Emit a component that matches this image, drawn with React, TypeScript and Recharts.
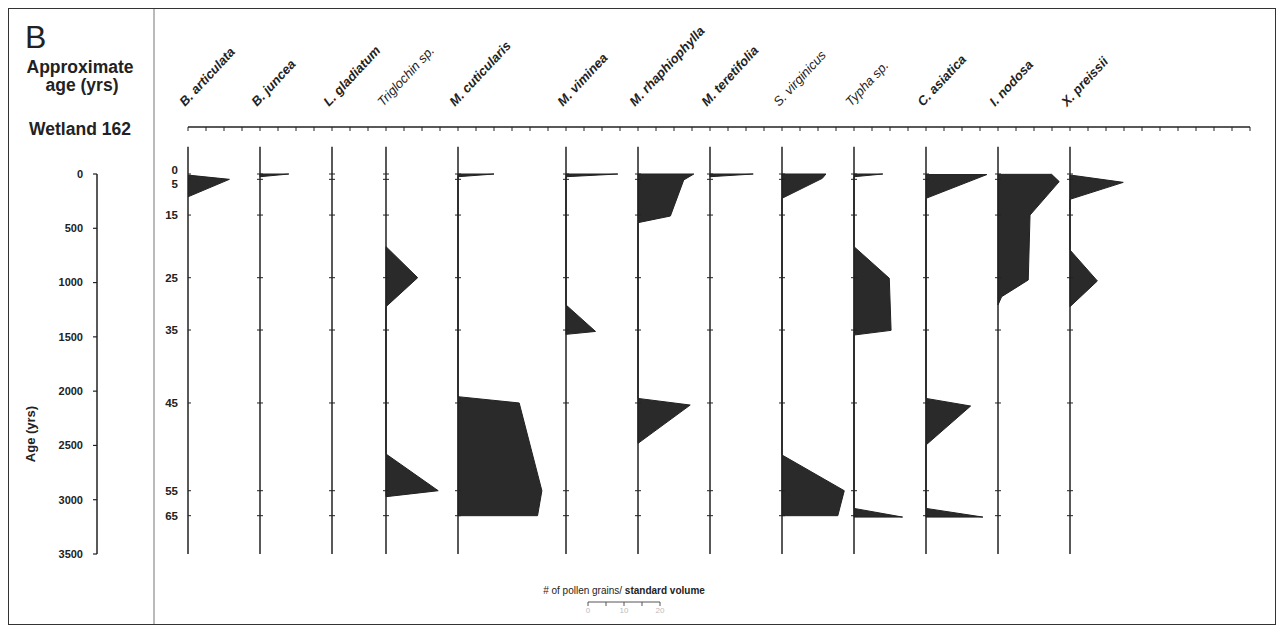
import React from 'react';
import {
  ComposedChart,
  Area,
  XAxis,
  YAxis,
  ReferenceLine,
  Scatter,
  LineChart,
  Line,
} from 'recharts';

// ---------- DATA ----------
const taxa = [
  'B. articulata',
  'B. juncea',
  'L. gladiatum',
  'Triglochin sp.',
  'M. cuticularis',
  'M. viminea',
  'M. rhaphiophylla',
  'M. teretifolia',
  'S. virginicus',
  'Typha sp.',
  'C. asiatica',
  'I. nodosa',
  'X. preissii',
];
// zero line of every taxon column, in grains along the shared count axis
const columnZero = [0, 20, 40, 55, 75, 105, 125, 145, 165, 185, 205, 225, 245];

// [age (yrs), # pollen grains / standard volume]
const bArticulata: [number, number][] = [[10, 0], [49, 11.5], [210, 0]];
const bJuncea: [number, number][] = [[0, 0], [0, 8], [25, 0]];
const lGladiatum: [number, number][] = [];
const triglochin: [number, number][] = [[669, 0], [955, 8.8], [1222, 0], [2579, 0], [2917, 14.5], [2972, 0]];
const mCuticularis: [number, number][] = [[0, 0], [0, 10], [25, 0], [2051, 0], [2109, 17], [2917, 23.3], [3147, 22.1], [3147, 0]];
const mViminea: [number, number][] = [[0, 0], [0, 14.4], [25, 0], [1206, 0], [1450, 8.2], [1477, 0]];
const mRhaphiophylla: [number, number][] = [[0, 0], [0, 15.5], [55, 12.7], [387, 9], [448, 0], [2067, 0], [2128, 14.5], [2481, 0]];
const mTeretifolia: [number, number][] = [[0, 0], [0, 12], [25, 0]];
const sVirginicus: [number, number][] = [[0, 0], [0, 12.2], [40, 11.2], [224, 0], [2588, 0], [2917, 17.3], [3147, 15.5], [3147, 0]];
const typha: [number, number][] = [[0, 0], [0, 8], [25, 0], [669, 0], [960, 9.8], [1440, 10.3], [1483, 0], [3080, 0], [3160, 13.5], [3160, 0]];
const cAsiatica: [number, number][] = [[5, 0], [5, 16.9], [224, 0], [2067, 0], [2137, 12.4], [2496, 0], [3080, 0], [3160, 15.8], [3160, 0]];
const iNodosa: [number, number][] = [[3, 0], [3, 14.9], [70, 17], [378, 8.9], [976, 8.4], [1130, 1], [1206, 0]];
const xPreissii: [number, number][] = [[9, 0], [77, 14.8], [233, 0], [700, 0], [985, 7.6], [1222, 0]];

const profiles = [
  bArticulata, bJuncea, lGladiatum, triglochin, mCuticularis, mViminea,
  mRhaphiophylla, mTeretifolia, sVirginicus, typha, cAsiatica, iNodosa, xPreissii,
];

const ageTicks = [0, 500, 1000, 1500, 2000, 2500, 3000, 3500];
const depthLabels = ['0', '5', '15', '25', '35', '45', '55', '65'];
const depthAges = [0, 49, 378, 955, 1437, 2109, 2917, 3147];
const countTicks = Array.from({ length: 60 }, (_, i) => i * 5);
const scaleTicks = [0, 5, 10, 15, 20];
const scaleLabels = ['0', '', '10', '', '20'];

// ---------- LAYOUT ----------
const FONT = '"Liberation Sans", Arial, Helvetica, sans-serif';
const INK = '#222';
const W = 1266;
const H = 615;
const MARGIN = { top: 18, right: 25, bottom: 70, left: 28 };
const DEPTH_W = 91;
const AGE_W = 60;
const X_DOMAIN: [number, number] = [0, 295];
const Y_DOMAIN: [number, number] = [-433, 3500];
const COLUMN_TOP = -250;
const PX_PER_GRAIN = (W - MARGIN.left - DEPTH_W - AGE_W - MARGIN.right) / (X_DOMAIN[1] - X_DOMAIN[0]);
const AGE_AXIS_X = -DEPTH_W / PX_PER_GRAIN;

const lightLabels = new Set(['Triglochin sp.', 'S. virginicus', 'Typha sp.']);

const TaxonTick = (props: any) => {
  const { x, y, payload } = props;
  const i = columnZero.indexOf(payload.value);
  const name = taxa[i] ?? '';
  const tx = x - 3;
  return (
    <text
      x={tx}
      y={y}
      transform={`rotate(-47 ${tx} ${y})`}
      fontSize={13}
      fontWeight={lightLabels.has(name) ? 400 : 700}
      fontStyle="italic"
      fontFamily={FONT}
      fill={INK}
    >
      {name}
    </text>
  );
};

const DepthTick = (props: any) => {
  const { x, y, payload } = props;
  const i = depthAges.indexOf(payload.value);
  const nudge = i === 0 ? -4 : i === 1 ? 5 : 0;
  return (
    <text x={x} y={y + nudge} dy="0.35em" textAnchor="end" fontSize={11.5} fontWeight={700} fontFamily={FONT} fill={INK}>
      {depthLabels[i]}
    </text>
  );
};

const DepthMark = (props: any) => {
  const { cx, cy } = props;
  if (cx == null || cy == null) return <g />;
  return <line x1={cx - 3} x2={cx + 3} y1={cy} y2={cy} stroke={INK} strokeWidth={1} />;
};

const depthMarks = columnZero.flatMap((c) => depthAges.map((a) => ({ x: c, age: a })));
const scaleData = [{ g: 0, y: 0 }, { g: 20, y: 0 }];

export default function App() {
  return (
    <div
      style={{
        position: 'absolute',
        left: 8,
        top: 8,
        width: W + 2,
        height: H + 2,
        boxSizing: 'border-box',
        border: '1px solid #333',
        background: '#fff',
      }}
    >
      <ComposedChart width={W} height={H} layout="vertical" margin={MARGIN}>
        <XAxis
          xAxisId="main"
          type="number"
          dataKey="x"
          domain={X_DOMAIN}
          allowDataOverflow
          orientation="top"
          mirror
          ticks={countTicks}
          interval={0}
          tickSize={4}
          tick={() => <g />}
          axisLine={{ stroke: INK, strokeWidth: 1.5 }}
          tickLine={{ stroke: INK, strokeWidth: 1 }}
        />
        <XAxis
          xAxisId="labels"
          type="number"
          domain={X_DOMAIN}
          allowDataOverflow
          orientation="top"
          height={100}
          ticks={columnZero}
          interval={0}
          axisLine={false}
          tickLine={false}
          tickSize={0}
          tickMargin={20}
          tick={TaxonTick}
        />
        <YAxis
          yAxisId="b_age"
          type="number"
          dataKey="age"
          domain={Y_DOMAIN}
          allowDataOverflow
          width={AGE_W}
          ticks={ageTicks}
          interval={0}
          axisLine={false}
          tickSize={4}
          tickMargin={10}
          tickLine={{ stroke: INK, strokeWidth: 1.2 }}
          tick={{ fontSize: 11, fontWeight: 700, fill: INK, fontFamily: FONT }}
        />
        <YAxis
          yAxisId="a_depth"
          type="number"
          dataKey="age"
          domain={Y_DOMAIN}
          allowDataOverflow
          width={DEPTH_W}
          ticks={depthAges}
          interval={0}
          axisLine={false}
          tickLine={false}
          tickSize={4}
          tickMargin={6}
          tick={DepthTick}
        />

        <ReferenceLine
          xAxisId="main"
          yAxisId="b_age"
          segment={[{ x: AGE_AXIS_X, y: ageTicks[0] }, { x: AGE_AXIS_X, y: ageTicks[ageTicks.length - 1] }]}
          stroke={INK}
          strokeWidth={1.5}
          ifOverflow="visible"
        />
        {columnZero.map((c, i) => (
          <ReferenceLine
            key={`col-${i}`}
            xAxisId="main"
            yAxisId="b_age"
            segment={[{ x: c, y: COLUMN_TOP }, { x: c, y: Y_DOMAIN[1] }]}
            stroke={INK}
            strokeWidth={1.5}
            ifOverflow="visible"
          />
        ))}

        {profiles.map((p, i) =>
          p.length ? (
            <Area
              key={`area-${i}`}
              xAxisId="main"
              yAxisId="b_age"
              data={p.map(([age, v]) => ({ age, range: [columnZero[i], columnZero[i] + v] }))}
              dataKey="range"
              type="linear"
              fill="#2a2a2a"
              fillOpacity={1}
              stroke={INK}
              strokeWidth={1}
              dot={false}
              activeDot={false}
              isAnimationActive={false}
            />
          ) : null
        )}

        <Scatter
          xAxisId="main"
          yAxisId="b_age"
          data={depthMarks}
          dataKey="x"
          shape={DepthMark}
          isAnimationActive={false}
        />
      </ComposedChart>

      <div style={{ position: 'absolute', left: 559, top: 583 }}>
        <LineChart width={112} height={30} data={scaleData} margin={{ top: 0, right: 20, bottom: 0, left: 20 }}>
          <XAxis
            dataKey="g"
            type="number"
            domain={[0, 20]}
            allowDataOverflow
            ticks={scaleTicks}
            interval={0}
            height={20}
            tickSize={4}
            tickMargin={1}
            tickFormatter={(v: number) => scaleLabels[scaleTicks.indexOf(v)] ?? ''}
            tick={{ fontSize: 8, fill: '#bbb', fontFamily: FONT }}
            axisLine={{ stroke: '#555' }}
            tickLine={{ stroke: '#555' }}
          />
          <YAxis hide domain={[0, 1]} />
          <Line dataKey="y" stroke="none" dot={false} isAnimationActive={false} />
        </LineChart>
      </div>

      <svg
        width={W}
        height={H}
        style={{ position: 'absolute', left: 0, top: 0, pointerEvents: 'none' }}
        fontFamily={FONT}
      >
        <line x1={145} x2={145} y1={0} y2={H} stroke="#777" strokeWidth={1} />
        <text x={16} y={39} fontSize={32} fill={INK}>B</text>
        <text x={71} y={64} textAnchor="middle" fontSize={17.5} fontWeight={700} fill={INK}>Approximate</text>
        <text x={73} y={82} textAnchor="middle" fontSize={17.5} fontWeight={700} fill={INK}>age (yrs)</text>
        <text x={71} y={126} textAnchor="middle" fontSize={17.5} fontWeight={700} fill={INK}>Wetland 162</text>
        <text transform="translate(26,425) rotate(-90)" textAnchor="middle" fontSize={13} fontWeight={700} fill={INK}>
          Age (yrs)
        </text>
        <text x={615} y={585} textAnchor="middle" fontSize={10} fill={INK}>
          # of pollen grains/ <tspan fontWeight={700}>standard volume</tspan>
        </text>
      </svg>
    </div>
  );
}
